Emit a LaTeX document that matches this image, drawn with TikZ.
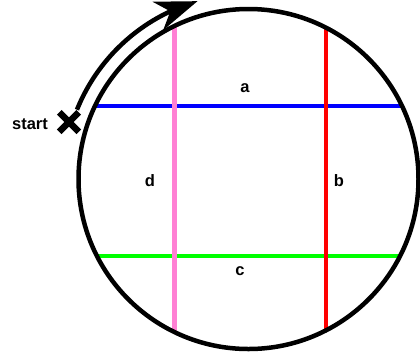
\documentclass[tikz,border=0pt]{standalone}
\usepackage{fontspec}
\setmainfont{Liberation Sans}
\usetikzlibrary{arrows.meta,bending,shapes.misc}
\definecolor{lapPink}{RGB}{255,128,212}

\begin{document}
\begin{tikzpicture}[x=1pt,y=-1pt,>={Stealth[length=42pt,width=30pt,inset=13pt,flex]},
  lbl/.style={font=\fontsize{16.5}{19}\selectfont\bfseries,inner sep=0pt},
  leg/.style={line width=4.5pt}]
\useasboundingbox (0,0) rectangle (420,360);
\node[circle,minimum size=340pt,inner sep=0pt,outer sep=0pt] (ring) at (248.5,179) {};
% chord end points on the rim
\coordinate (aL) at ([shift={(-154.6:170)}]ring.center);
\coordinate (aR) at ([shift={(-25.4:170)}]ring.center);
\coordinate (cL) at ([shift={(153.1:170)}]ring.center);
\coordinate (cR) at ([shift={(26.9:170)}]ring.center);
\coordinate (dT) at ([shift={(-115.8:170)}]ring.center);
\coordinate (dB) at ([shift={(115.8:170)}]ring.center);
\coordinate (bT) at ([shift={(-62.9:170)}]ring.center);
\coordinate (bB) at ([shift={(62.9:170)}]ring.center);
\draw[leg,blue] (aL) -- (aR);
\draw[leg,green] (cL) -- (cR);
\draw[leg,lapPink] (dT) -- (dB);
\draw[leg,red] (bT) -- (bB);
\draw[line width=4.5pt] (ring.center) circle (170);
\node[lbl] (a) at (245,88) {a};
\node[lbl] (b) at (339,181) {b};
\node[lbl] (c) at (240,271) {c};
\node[lbl] (d) at (150,181) {d};
\node[lbl] (start) at (30,124) {start};
\node[cross out,draw,line width=6.5pt,minimum size=13pt,inner sep=0pt] (mark) at (69,122) {};
\draw[->,line width=4.5pt] ([shift={(-158:185)}]ring.center) arc (-158:-106:185);
\end{tikzpicture}
\end{document}
